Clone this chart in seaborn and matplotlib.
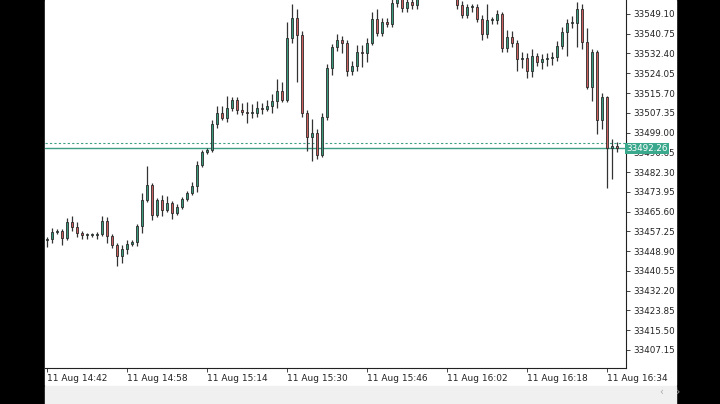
import matplotlib
matplotlib.use("Agg")
import matplotlib.pyplot as plt
import matplotlib.patches as patches
import numpy as np
import pandas as pd
import seaborn as sns

# M1 candles, 11 Aug, starting 14:42 (open of each candle = previous close)
first_open = 33453.6
closes = [
    33454.0, 33457.0, 33457.4, 33454.4, 33461.2, 33459.1, 33456.5, 33455.7, 33455.7, 33455.7,
    33456.1, 33461.6, 33455.3, 33451.5, 33446.8, 33449.8, 33451.9, 33452.7, 33459.5, 33470.5,
    33476.8, 33464.1, 33470.5, 33466.3, 33469.2, 33465.0, 33467.5, 33470.9, 33473.4, 33476.4,
    33485.3, 33490.8, 33491.6, 33502.6, 33507.2, 33505.1, 33509.4, 33512.7, 33508.5, 33507.7,
    33507.2, 33507.2, 33509.4, 33508.9, 33510.2, 33512.3, 33516.5, 33512.7, 33538.9, 33547.4,
    33540.2, 33507.2, 33497.1, 33498.8, 33489.5, 33505.6, 33526.3, 33535.1, 33538.1, 33536.8,
    33525.0, 33527.1, 33533.0, 33532.6, 33536.8, 33547.0, 33541.1, 33545.7, 33544.9, 33553.7,
    33557.1, 33551.6, 33554.2, 33552.9, 33559.2, 33563.5, 33567.7, 33565.6, 33569.8, 33563.5,
    33559.2, 33557.1, 33552.9, 33548.7, 33552.0, 33552.0, 33547.0, 33540.6, 33546.5, 33546.5,
    33549.1, 33534.7, 33539.4, 33536.8, 33530.1, 33530.5, 33525.0, 33531.3, 33528.8, 33530.1,
    33530.5, 33530.9, 33535.6, 33541.5, 33545.3, 33545.3, 33551.2, 33537.3, 33518.2, 33533.0,
    33504.3, 33514.0, 33492.5, 33493.3, 33492.3,
]
upper_wick = [
    1.0, 1.5, 1.0, 1.0, 1.5, 2.5, 2.0, 1.0, 1.0, 1.0,
    1.0, 2.0, 1.5, 1.0, 1.0, 1.5, 1.5, 1.0, 1.0, 3.0,
    8.0, 1.0, 1.0, 2.0, 3.0, 1.0, 1.5, 1.0, 1.0, 1.5,
    1.5, 1.0, 1.0, 1.5, 3.0, 3.0, 5.0, 1.5, 1.5, 3.0,
    4.0, 4.0, 3.0, 2.0, 2.5, 3.0, 5.0, 4.0, 7.0, 6.0,
    4.0, 1.5, 1.5, 6.0, 1.5, 1.5, 1.5, 1.5, 2.5, 1.5,
    1.5, 2.0, 3.0, 3.0, 2.0, 3.0, 4.0, 1.5, 1.5, 2.0,
    2.0, 2.0, 2.0, 2.0, 2.0, 2.0, 2.0, 2.0, 2.0, 2.0,
    2.0, 2.0, 2.0, 1.5, 1.5, 1.5, 1.5, 1.5, 7.0, 1.5,
    1.5, 1.0, 3.0, 2.5, 1.5, 2.5, 2.0, 3.0, 1.5, 2.0,
    2.0, 2.0, 2.0, 2.0, 1.5, 3.0, 3.0, 2.0, 6.0, 1.5,
    1.0, 1.5, 0.5, 3.0, 1.5,
]
lower_wick = [
    3.0, 1.5, 1.0, 3.0, 1.0, 1.5, 1.5, 1.5, 1.5, 1.0,
    1.5, 1.0, 3.0, 1.5, 4.0, 3.0, 2.0, 1.0, 1.5, 3.0,
    1.0, 2.0, 1.0, 2.5, 1.0, 2.5, 1.0, 1.0, 1.0, 1.0,
    2.5, 1.0, 1.0, 1.0, 1.5, 1.0, 1.5, 1.5, 1.5, 1.5,
    4.0, 2.0, 1.5, 2.0, 1.0, 3.0, 3.0, 1.0, 1.0, 2.0,
    20.0, 1.5, 6.0, 10.0, 1.5, 1.0, 1.5, 3.0, 1.5, 4.0,
    2.0, 1.5, 2.0, 6.0, 4.0, 1.0, 1.5, 1.5, 1.5, 1.5,
    1.5, 1.5, 1.5, 1.5, 1.5, 1.5, 1.5, 1.5, 1.5, 1.5,
    1.5, 1.5, 1.5, 1.5, 1.5, 2.0, 1.5, 2.5, 1.5, 1.5,
    1.5, 1.5, 1.5, 1.5, 5.0, 4.0, 3.0, 2.5, 1.5, 3.0,
    3.0, 3.0, 1.5, 1.5, 10.0, 2.0, 10.0, 3.0, 1.0, 6.0,
    6.0, 4.0, 17.0, 13.0, 1.5,
]
bid_price = 33492.26
ask_price = 33494.6
price_ticks = [33549.10, 33540.75, 33532.40, 33524.05, 33515.70, 33507.35, 33499.00,
               33490.65, 33482.30, 33473.95, 33465.60, 33457.25, 33448.90, 33440.55,
               33432.20, 33423.85, 33415.50, 33407.15]
time_labels = ["11 Aug 14:42", "11 Aug 14:58", "11 Aug 15:14", "11 Aug 15:30",
               "11 Aug 15:46", "11 Aug 16:02", "11 Aug 16:18", "11 Aug 16:34"]

df = pd.DataFrame({"close": closes, "up": upper_wick, "dn": lower_wick})
df["open"] = [first_open] + closes[:-1]
df["high"] = df[["open", "close"]].max(axis=1) + df["up"]
df["low"] = df[["open", "close"]].min(axis=1) - df["dn"]
df["i"] = np.arange(len(df))

sns.set_style("white")
plt.rcParams["font.family"] = ["DejaVu Sans"]

W, H = 720, 404
fig = plt.figure(figsize=(7.2, 4.04), dpi=100)
fig.patch.set_facecolor("black")

# window background (white chart area + grey scrollbar strip)
bg = fig.add_axes([0, 0, 1, 1], zorder=-5)
bg.set_xlim(0, W)
bg.set_ylim(0, H)
bg.axis("off")
bg.add_patch(patches.Rectangle((45, 19), 631, H - 19, color="white"))
bg.add_patch(patches.Rectangle((45, 0), 631, 18, color="#f0f0f0"))
bg.text(660, 12, "‹    ›", fontsize=7, color="#aaaaaa", va="center")

ax = fig.add_axes([45 / W, 36 / H, 581 / W, 368 / H], zorder=2)
ax.set_facecolor("white")

green, red, edge = "#3a9a7e", "#cc5f5f", "#2b2b2b"
ax.vlines(df["i"], df["low"], df["high"], color="#333333", lw=0.9, zorder=2)
colors = np.where(df["close"] >= df["open"], green, red)
heights = (df["close"] - df["open"]).abs().clip(lower=0.5)
ax.bar(df["i"], heights, bottom=df[["open", "close"]].min(axis=1), width=0.55,
       color=colors, edgecolor=edge, linewidth=0.6, zorder=3)

ax.axhline(bid_price, color="#3f9e86", lw=1.0, zorder=1)
ax.axhline(ask_price, color="#3f9e86", lw=0.8, ls=(0, (2, 2)), zorder=1)

ax.set_xlim(-0.4, 115.8)
ax.set_ylim(33399.5, 33555.0)

ax.yaxis.tick_right()
ax.set_yticks(price_ticks)
ax.set_yticklabels([f"{p:.2f}" for p in price_ticks], fontsize=6.3, color="#222222")
ax.tick_params(axis="y", length=3, width=0.6, color="#222222", pad=2, direction="out", right=True)
ax.set_xticks(np.arange(len(time_labels)) * 16)
ax.set_xticklabels(time_labels, fontsize=6.5, color="#222222", ha="left")
ax.tick_params(axis="x", length=3, width=0.6, color="#222222", pad=1, bottom=True)

ax.text(1.0, bid_price, f"{bid_price:.2f}", transform=ax.get_yaxis_transform(),
        fontsize=6.3, color="white", va="center", ha="left", zorder=5,
        bbox=dict(boxstyle="square,pad=0.15", fc="#3aa88c", ec="none"))

for s in ["top", "left"]:
    ax.spines[s].set_visible(False)
for s in ["right", "bottom"]:
    ax.spines[s].set_color("#222222")
    ax.spines[s].set_linewidth(0.8)

fig.savefig("out.png", dpi=100, facecolor=fig.get_facecolor())
